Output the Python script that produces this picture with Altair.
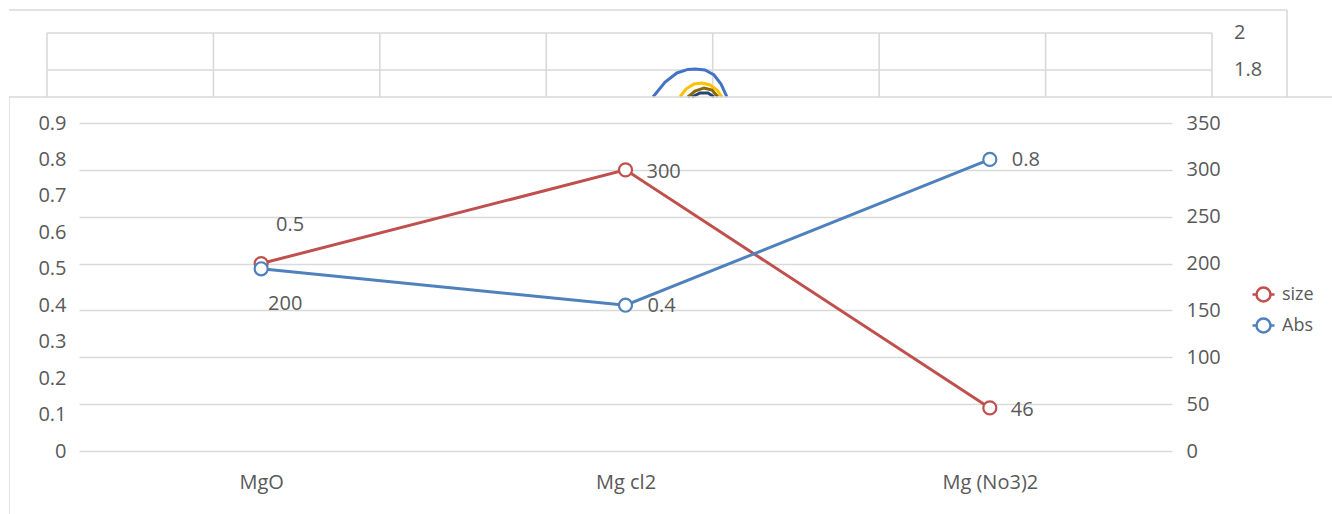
import altair as alt
import pandas as pd

FONT = "Open Sans"
TEXT = "#595959"
GRID = "#d9d9d9"
RED = "#C0504D"
BLUE = "#4F81BD"

# ---- foreground chart: size (right axis) and Abs (left axis) per salt ----
categories = ["MgO", "Mg cl2", "Mg (No3)2"]
size_values = [200, 300, 46]
abs_values = [0.5, 0.4, 0.8]
abs_ticks = [0, 0.1, 0.2, 0.3, 0.4, 0.5, 0.6, 0.7, 0.8, 0.9]
size_ticks = [0, 50, 100, 150, 200, 250, 300, 350]
series_names = ["size", "Abs"]

# ---- chart lying behind (only its top strip is visible) ----
bg_x_ticks = [0, 1, 2, 3, 4, 5, 6, 7]
bg_y_ticks = [2.0, 1.8]
bg_y_labels = ["2", "1.8"]
bg_visible_floor = 1.654  # where the front panel starts hiding it

bg_curve_names = ["c1", "c2", "c3", "c4"]
c1_x = [3.641, 3.714, 3.785, 3.851, 3.894, 3.954, 4.008, 4.050, 4.086]
c1_y = [1.654, 1.735, 1.784, 1.803, 1.805, 1.800, 1.773, 1.724, 1.654]
c2_x = [3.803, 3.839, 3.888, 3.936, 3.984, 4.026, 4.056]
c2_y = [1.654, 1.697, 1.724, 1.730, 1.719, 1.692, 1.654]
c3_x = [3.851, 3.894, 3.948, 3.996, 4.032]
c3_y = [1.654, 1.686, 1.703, 1.692, 1.654]
c4_x = [3.875, 3.924, 3.972, 4.008]
c4_y = [1.654, 1.676, 1.676, 1.654]
bg_curve_colors = ["#4472C4", "#FFC000", "#8a6a00", "#264478"]

W, H = 1093, 328
PAD = {"left": 79, "top": 123, "right": 160, "bottom": 63}

df = pd.DataFrame({"cat": categories, "size": size_values, "Abs": abs_values})

x_enc = alt.X(
    "cat:N", sort=categories, title=None,
    scale=alt.Scale(type="point", padding=0.5),
    axis=alt.Axis(domain=False, ticks=False, grid=False, labelPadding=21,
                  labelAngle=0, labelFontSize=20, labelFont=FONT, labelColor=TEXT),
)

stroke_scale = alt.Scale(domain=series_names, range=[RED, BLUE])
legend_symbol = ("M-1,0L-0.636,0M0.636,0A0.636,0.636,0,1,1,-0.636,0"
                 "A0.636,0.636,0,1,1,0.636,0M0.636,0L1,0")
legend = alt.Legend(
    orient="none", legendX=1172, legendY=159, title=None, padding=0,
    symbolType=legend_symbol, symbolSize=484, symbolStrokeWidth=2.5,
    symbolFillColor="white", labelFontSize=18, labelFont=FONT,
    labelColor=TEXT, labelOffset=6, rowPadding=6,
)
stroke_enc = alt.Stroke("series:N", scale=stroke_scale, legend=legend)

size_y = alt.Y(
    "size:Q", title=None,
    scale=alt.Scale(domain=[0, 350], nice=False, zero=True),
    axis=alt.Axis(orient="right", values=size_ticks, format="d", domain=False,
                  ticks=False, grid=True, gridColor=GRID, gridWidth=1.6,
                  labelPadding=14, labelFontSize=20, labelFont=FONT,
                  labelColor=TEXT),
)
abs_y = alt.Y(
    "Abs:Q", title=None,
    scale=alt.Scale(domain=[0, 0.9], nice=False, zero=True),
    axis=alt.Axis(orient="left", values=abs_ticks, format=".1~f", domain=False,
                  ticks=False, grid=False, labelPadding=13, labelFontSize=20,
                  labelFont=FONT, labelColor=TEXT),
)

size_base = alt.Chart(df).encode(x=x_enc, y=size_y)
abs_base = alt.Chart(df).encode(x=x_enc, y=abs_y)

label_style = dict(fontSize=20, font=FONT, color=TEXT)

size_layer = alt.layer(
    size_base.mark_line(strokeWidth=3, color=RED),
    size_base.transform_calculate(series="'size'").mark_circle(
        size=170, fill="white", strokeWidth=2.2, opacity=1
    ).encode(stroke=stroke_enc),
    size_base.transform_filter(alt.datum.cat == categories[0]).mark_text(
        align="center", baseline="middle", dx=24, dy=40, **label_style
    ).encode(text=alt.Text("size:Q", format="d")),
    size_base.transform_filter(alt.datum.cat != categories[0]).mark_text(
        align="left", baseline="middle", dx=21, dy=2, **label_style
    ).encode(text=alt.Text("size:Q", format="d")),
)

abs_layer = alt.layer(
    abs_base.mark_line(strokeWidth=3, color=BLUE),
    abs_base.transform_calculate(series="'Abs'").mark_circle(
        size=170, fill="white", strokeWidth=2.2, opacity=1
    ).encode(stroke=stroke_enc),
    abs_base.transform_filter(alt.datum.cat == categories[0]).mark_text(
        align="center", baseline="middle", dx=29, dy=-44, **label_style
    ).encode(text=alt.Text("Abs:Q", format=".1~f")),
    abs_base.transform_filter(alt.datum.cat != categories[0]).mark_text(
        align="left", baseline="middle", dx=22, dy=1, **label_style
    ).encode(text=alt.Text("Abs:Q", format=".1~f")),
)

main = alt.layer(size_layer, abs_layer).resolve_scale(y="independent")

# ---- background chart ----
bg_x_scale = alt.Scale(domain=[0.1923, 6.7597], nice=False, zero=False)
bg_y_scale = alt.Scale(domain=[-0.2595, 1.5135], nice=False, zero=False)

bg_h = pd.DataFrame({"v": bg_y_ticks, "label": bg_y_labels,
                     "x0": bg_x_ticks[0], "x1": bg_x_ticks[-1]})
bg_v = pd.DataFrame({"u": bg_x_ticks, "top": max(bg_y_ticks), "bottom": bg_visible_floor})

rows = []
for name, xs, ys in zip(bg_curve_names, [c1_x, c2_x, c3_x, c4_x], [c1_y, c2_y, c3_y, c4_y]):
    for i, (a, b) in enumerate(zip(xs, ys)):
        rows.append({"curve": name, "i": i, "x": a, "y": b})
bg_curves = pd.DataFrame(rows)

bg_y_enc = alt.Y("v:Q", scale=bg_y_scale, axis=None)
bg_hlines = alt.Chart(bg_h).mark_rule(color=GRID, strokeWidth=1.6).encode(
    x=alt.X("x0:Q", scale=bg_x_scale, axis=None),
    x2="x1:Q",
    y=bg_y_enc,
)
bg_hlabels = alt.Chart(bg_h).mark_text(
    align="left", baseline="middle", dx=22, **label_style
).encode(
    x=alt.X("x1:Q", scale=bg_x_scale, axis=None),
    y=bg_y_enc,
    text="label:N",
)
bg_vlines = alt.Chart(bg_v).mark_rule(color=GRID, strokeWidth=1.6).encode(
    x=alt.X("u:Q", scale=bg_x_scale, axis=None),
    y=alt.Y("top:Q", scale=bg_y_scale, axis=None),
    y2="bottom:Q",
)
bg_lines = alt.Chart(bg_curves).mark_line(strokeWidth=3).encode(
    x=alt.X("x:Q", scale=bg_x_scale, axis=None),
    y=alt.Y("y:Q", scale=bg_y_scale, axis=None),
    color=alt.Color("curve:N", scale=alt.Scale(domain=bg_curve_names, range=bg_curve_colors),
                    legend=None),
    order="i:Q",
)
bg = alt.layer(bg_vlines, bg_hlines, bg_hlabels, bg_lines)

# ---- chart-area borders of the two overlapping charts ----
one = pd.DataFrame({"k": [0]})
frame_style = dict(color=GRID, strokeWidth=1.6)
frames = alt.layer(
    alt.Chart(one).mark_rule(**frame_style).encode(
        x=alt.value(-70), x2=alt.value(1208), y=alt.value(-113)),
    alt.Chart(one).mark_rule(**frame_style).encode(
        x=alt.value(1208), y=alt.value(-113), y2=alt.value(-26)),
    alt.Chart(one).mark_rule(**frame_style).encode(
        x=alt.value(-70), x2=alt.value(1260), y=alt.value(-26)),
    alt.Chart(one).mark_rule(color="#e6e6e6", strokeWidth=1.2).encode(
        x=alt.value(-69.5), y=alt.value(-26), y2=alt.value(400)),
)

chart = (
    alt.layer(bg, frames, main)
    .resolve_scale(x="independent", y="independent", color="independent")
    .properties(width=W, height=H, autosize=alt.AutoSizeParams(type="none"), padding=PAD,
                background="white")
    .configure_view(stroke=None)
)

chart.save("out.html", embed_options={"renderer": "svg", "actions": False})
